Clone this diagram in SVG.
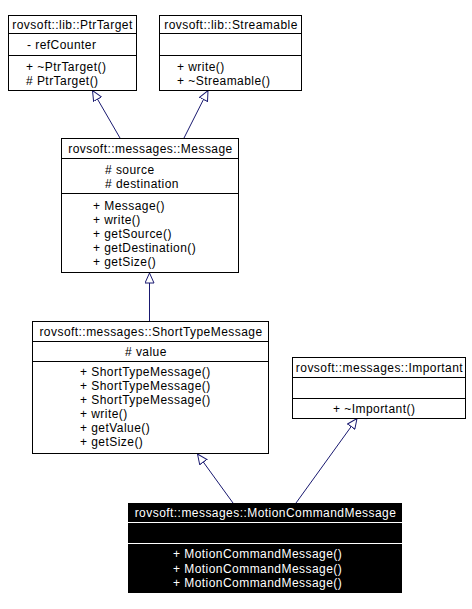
<svg xmlns="http://www.w3.org/2000/svg" width="472" height="609" viewBox="0 0 472 609">
<style>
  text { font-family: "Liberation Sans", Arial, sans-serif; font-size: 12px; letter-spacing: 0.45px; fill: #000; }
  .c { text-anchor: middle; }
  .box { fill: #fff; stroke: #000; stroke-width: 1; }
  .sep { stroke: #000; stroke-width: 1; }
  .dbox { fill: #000; stroke: #000; stroke-width: 1; }
  .dsep { stroke: #fff; stroke-width: 1; }
  .dark text { fill: #fff; }
  .edge { fill: none; stroke: #191970; stroke-width: 1; marker-end: url(#inh); }
</style>
<defs>
  <marker id="inh" viewBox="0 0 11 10" refX="10.5" refY="5" markerWidth="11" markerHeight="10" markerUnits="userSpaceOnUse" orient="auto">
    <path d="M0.5,0.5 L10.5,5 L0.5,9.5 Z" fill="#fff" stroke="#191970" stroke-width="1"/>
  </marker>
</defs>
<rect width="472" height="609" fill="#fff"/>

<g id="edges">
  <path class="edge" d="M120,138 L92.5,90.5"/>
  <path class="edge" d="M184,138 L208,90.5"/>
  <path class="edge" d="M149.5,321 L149.5,273"/>
  <path class="edge" d="M233,503 L197.5,454"/>
  <path class="edge" d="M296,503 L357,418.5"/>
</g>

<g id="PtrTarget">
  <rect class="box" x="8.5" y="15.5" width="128" height="75"/>
  <line class="sep" x1="8.5" y1="33.5" x2="136.5" y2="33.5"/>
  <line class="sep" x1="8.5" y1="55.5" x2="136.5" y2="55.5"/>
  <text class="c" x="72.5" y="29">rovsoft::lib::PtrTarget</text>
  <text x="27" y="49">- refCounter</text>
  <text x="26" y="71">+ ~PtrTarget()</text>
  <text x="26" y="85">#  PtrTarget()</text>
</g>

<g id="Streamable">
  <rect class="box" x="159.5" y="15.5" width="142" height="75"/>
  <line class="sep" x1="159.5" y1="33.5" x2="301.5" y2="33.5"/>
  <line class="sep" x1="159.5" y1="55.5" x2="301.5" y2="55.5"/>
  <text class="c" x="231" y="29">rovsoft::lib::Streamable</text>
  <text x="177" y="71">+ write()</text>
  <text x="177" y="85">+ ~Streamable()</text>
</g>

<g id="Message">
  <rect class="box" x="61.5" y="138.5" width="177" height="134"/>
  <line class="sep" x1="61.5" y1="158.5" x2="238.5" y2="158.5"/>
  <line class="sep" x1="61.5" y1="193.5" x2="238.5" y2="193.5"/>
  <text class="c" x="150.5" y="153">rovsoft::messages::Message</text>
  <text x="105" y="174">#  source</text>
  <text x="105" y="188">#  destination</text>
  <text x="93" y="210">+ Message()</text>
  <text x="93" y="224">+ write()</text>
  <text x="93" y="238">+ getSource()</text>
  <text x="93" y="252">+ getDestination()</text>
  <text x="93" y="266">+ getSize()</text>
</g>

<g id="ShortTypeMessage">
  <rect class="box" x="32.5" y="321.5" width="236" height="132"/>
  <line class="sep" x1="32.5" y1="341.5" x2="268.5" y2="341.5"/>
  <line class="sep" x1="32.5" y1="361.5" x2="268.5" y2="361.5"/>
  <text class="c" x="151" y="336">rovsoft::messages::ShortTypeMessage</text>
  <text x="125" y="356">#  value</text>
  <text x="80" y="376">+ ShortTypeMessage()</text>
  <text x="80" y="390">+ ShortTypeMessage()</text>
  <text x="80" y="404">+ ShortTypeMessage()</text>
  <text x="80" y="418">+ write()</text>
  <text x="80" y="432">+ getValue()</text>
  <text x="80" y="446">+ getSize()</text>
</g>

<g id="Important">
  <rect class="box" x="292.5" y="357.5" width="173" height="61"/>
  <line class="sep" x1="292.5" y1="377.5" x2="465.5" y2="377.5"/>
  <line class="sep" x1="292.5" y1="398.5" x2="465.5" y2="398.5"/>
  <text class="c" x="379.5" y="372">rovsoft::messages::Important</text>
  <text x="333" y="413">+ ~Important()</text>
</g>

<g id="MotionCommandMessage" class="dark">
  <rect class="dbox" x="128.5" y="503.5" width="273" height="89"/>
  <line class="dsep" x1="128" y1="522.5" x2="402" y2="522.5"/>
  <line class="dsep" x1="128" y1="543.5" x2="402" y2="543.5"/>
  <text class="c" x="265.5" y="517">rovsoft::messages::MotionCommandMessage</text>
  <text x="173" y="558">+ MotionCommandMessage()</text>
  <text x="173" y="572.5">+ MotionCommandMessage()</text>
  <text x="173" y="587">+ MotionCommandMessage()</text>
</g>
</svg>
